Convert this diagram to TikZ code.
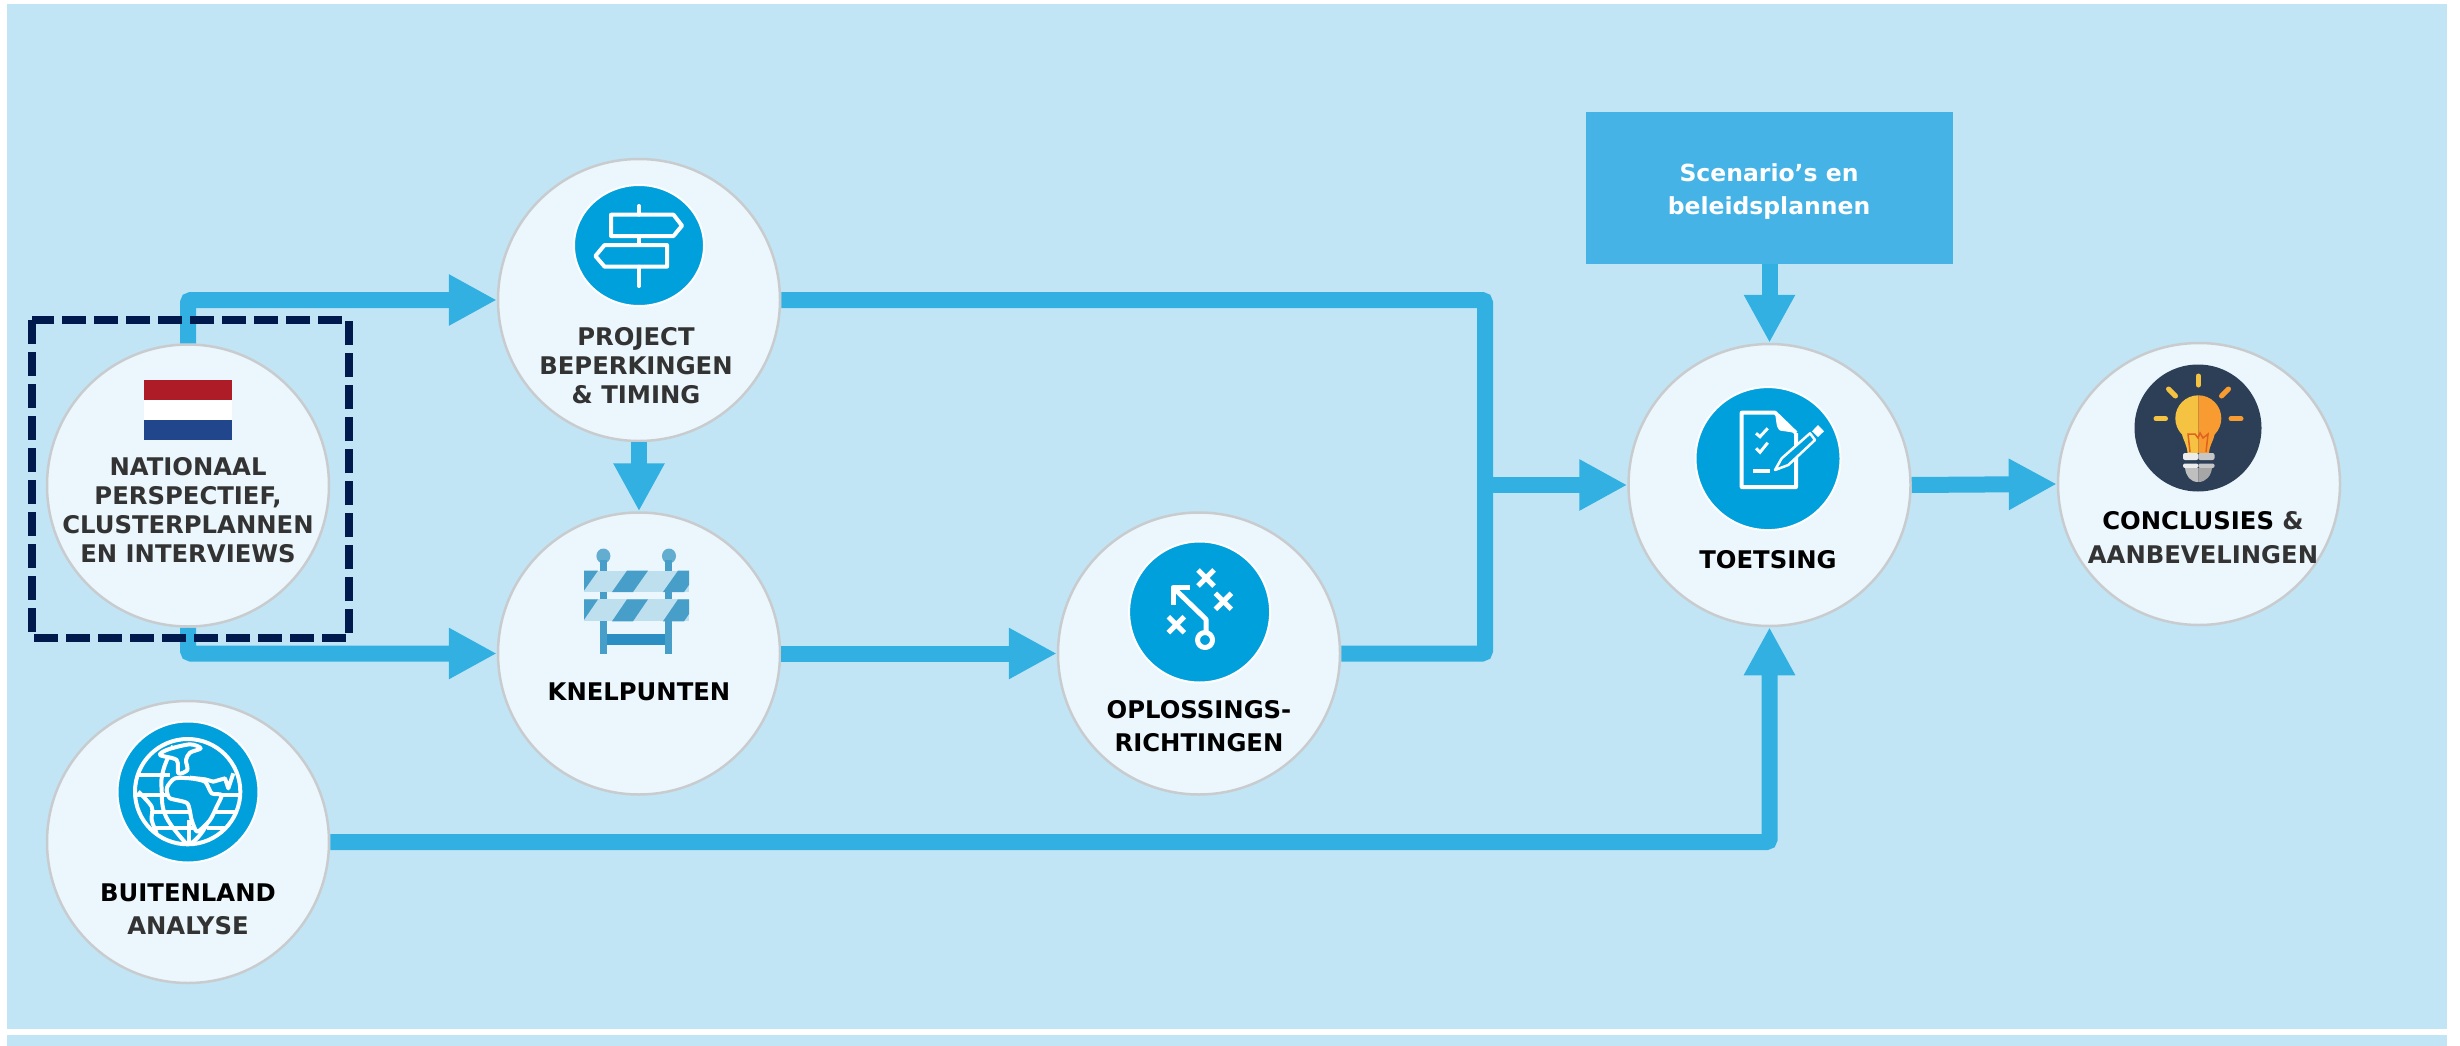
\documentclass[tikz,border=0pt]{standalone}
\usepackage{fontspec}
\setsansfont{DejaVu Sans}
\usetikzlibrary{arrows.meta,shapes.geometric}

\definecolor{panelblue}{HTML}{C2E5F5}
\definecolor{stationfill}{HTML}{EBF7FC}
\definecolor{stationline}{HTML}{C9CCCE}
\definecolor{flowblue}{HTML}{33B0E2}
\definecolor{boxblue}{HTML}{46B3E6}
\definecolor{iconblue}{HTML}{00A0DC}
\definecolor{navy}{HTML}{001A4D}
\definecolor{labelgray}{HTML}{333333}
\definecolor{flagred}{HTML}{AE1C28}
\definecolor{flagblue}{HTML}{21468B}
\definecolor{barrierdark}{HTML}{479FC9}
\definecolor{barrierlight}{HTML}{BDDFEE}
\definecolor{barrierbar}{HTML}{2B8FC4}
\definecolor{bulbnight}{HTML}{2C3F57}
\definecolor{bulbyellow}{HTML}{F5C242}
\definecolor{bulborange}{HTML}{F89C32}
\definecolor{wire}{HTML}{E0621F}

\tikzset{
  station/.style={ellipse,minimum width=282pt,minimum height=282pt,inner sep=0pt,fill=stationfill,draw=stationline,line width=2.5pt},
  badge/.style={ellipse,inner sep=0pt,fill=iconblue,draw=white,line width=2pt},
  flow/.style={line width=16pt,draw=flowblue,rounded corners=3pt},
  flowarrow/.style={flow,-{Triangle[length=48pt,width=48pt]}},
  lbl/.style={font=\sffamily\bfseries\fontsize{24.3}{29}\selectfont,align=center,inner sep=0pt,text=labelgray},
  iconline/.style={draw=white,line width=4pt,line join=round},
}

\begin{document}
\begin{tikzpicture}[x=1pt,y=-1pt]
\useasboundingbox (0,0) rectangle (2460,1046);
\fill[white] (0,0) rectangle (2460,1046);
\fill[panelblue] (7,4) rectangle (2447,1029);
\fill[panelblue] (7,1035) rectangle (2447,1046);

\node[station] (NAT) at (188,485.5) {};
\node[station] (PRJ) at (639,300) {};
\node[station] (KNP) at (639,653.5) {};
\node[station] (OPL) at (1199,653.5) {};
\node[station] (TST) at (1769.5,485) {};
\node[station] (CON) at (2199,484) {};
\node[station] (BUI) at (188,842) {};
\node[rectangle,fill=boxblue,minimum width=367pt,minimum height=152pt,inner sep=0pt] (SCN) at (1769.5,188) {};

\coordinate (M) at (1485,485);
\draw[flowarrow] (NAT.north) |- (PRJ.west);
\draw[flowarrow] (NAT.south) |- (KNP.west);
\draw[flowarrow] (PRJ.south) -- (KNP.north);
\draw[flowarrow] (KNP.east) -- (OPL.west);
\draw[flow] (PRJ.east) -| (M);
\draw[flow] (OPL.east) -| (M);
\draw[flowarrow] (M) -- (TST.west);
\draw[flowarrow] (SCN.south) -- (TST.north);
\draw[flowarrow] (BUI.east) -| (TST.south);
\draw[flowarrow] (TST.east) -- (CON.west);

\draw[navy,line width=7.5pt,dash pattern=on 24pt off 8pt] (32,320) rectangle (349,638);

% flag
\fill[white] (144,400) rectangle (232,420);
\fill[flagred] (144,380) rectangle (232,400);
\fill[flagblue] (144,420) rectangle (232,440);

% signpost
\node[badge,minimum width=130pt,minimum height=121pt] (PRJicon) at (639,245.5) {};
\draw[iconline] (611,214.7) -- (673.5,214.7) -- (682,225.7) -- (673.5,236) -- (611,236) -- cycle;
\draw[iconline] (667,245) -- (604.6,245) -- (595.4,256) -- (604.6,266.7) -- (667,266.7) -- cycle;
\draw[iconline,line cap=round] (639,206) -- (639,214.7) (639,236) -- (639,245) (639,266.7) -- (639,286);

% barrier
\fill[barrierdark!85!white] (603.4,556) ellipse (7 and 7.5);
\fill[barrierdark!85!white] (669,556) ellipse (7 and 7.5);
\fill[barrierdark] (600,560) rectangle (607.4,653.7);
\fill[barrierdark] (665.4,560) rectangle (672.3,653.7);
\fill[barrierbar] (607.4,634.3) rectangle (665.4,645.3);
\foreach \ytop/\ybot in {570.7/592,599.3/621.3}{
  \begin{scope}
    \clip (584,\ytop) rectangle (689,\ybot);
    \fill[barrierlight] (584,\ytop) rectangle (689,\ybot);
    \foreach \xs in {577,627,678}
      \fill[barrierdark] (\xs,\ytop) -- (\xs+21,\ytop) -- (\xs+6,\ybot) -- (\xs-15,\ybot) -- cycle;
  \end{scope}
}

% playbook
\node[badge,minimum width=141pt,minimum height=141pt] (OPLicon) at (1199.6,612) {};
\draw[iconline,line width=5pt] (1190,587.3) -- (1173,587.3) -- (1173,605);
\draw[iconline,line width=5pt] (1173,587.3) -- (1206,619.3) -- (1206,633);
\draw[iconline,line width=5pt] (1205,640) circle (7.5);
\foreach \cx/\cy in {1206/578,1223.4/601.3,1176.3/624.7}
  \draw[iconline,line width=5pt] (\cx-8,\cy-8) -- (\cx+8,\cy+8) (\cx-8,\cy+8) -- (\cx+8,\cy-8);

% checklist
\node[badge,minimum width=145pt,minimum height=143pt] (TSTicon) at (1768,458.6) {};
\draw[iconline] (1796,433) -- (1796,487) -- (1741.7,487) -- (1741.7,412.7) -- (1775,412.7) -- (1796,433);
\fill[white] (1775,412.7) .. controls (1777,425) and (1776,431) .. (1783,431) -- (1796,433) -- cycle;
\draw[white,line width=3pt] (1756,433.3) -- (1760,436.7) -- (1767.7,428.3);
\draw[white,line width=3pt] (1756,448.3) -- (1760,452.3) -- (1767.7,442.7);
\draw[iconline] (1753.3,470.7) -- (1770,470.7);
\draw[draw=white,fill=iconblue,line width=2.5pt,line join=round] (1775,470) -- (1781.7,458.3) -- (1810,433.3) -- (1815,440) -- (1788.3,465) -- cycle;
\fill[white] (1818,425) -- (1824,431.3) -- (1818,437) -- (1812,431.3) -- cycle;

% globe
\node[badge,minimum width=141pt,minimum height=141pt] (BUIicon) at (188,792) {};
\begin{scope}[shift={(110,710)},x=0.3333pt,y=-0.3333pt]
  \draw[iconline] plot[smooth, tension=.7] coordinates {(190,108) (160,180) (155,240) (168,320) (230,402)};
  \draw[iconline] (237,330) -- (237,405);
  \draw[iconline] (298,325) .. controls (285,360) and (265,385) .. (240,403);
  \draw[iconline] (88,195) -- (180,195) (80,255) -- (170,255) (125,305) -- (240,305) (135,355) -- (255,355);
  \draw[iconline] (335,255) -- (388,255) (318,305) -- (378,305) (290,355) -- (345,355);
  \draw[iconline,fill=iconblue] plot[smooth cycle, tension=.4] coordinates {(175,225) (195,205) (240,205) (285,215) (305,250) (335,255) (320,290) (300,330) (262,365) (245,330) (232,280) (180,265) (170,240)};
  \draw[iconline,fill=iconblue] plot[smooth cycle, tension=.5] coordinates {(150,135) (175,118) (240,103) (272,115) (240,128) (228,150) (232,180) (205,190) (200,150)};
  \draw[iconline] plot[smooth, tension=.5] coordinates {(85,245) (125,290) (125,330) (140,370)};
  \draw[iconline] (240,203) -- (285,208) -- (310,215) -- (345,205) -- (355,235) -- (370,190);
  \draw[iconline] (233,245) circle (158);
\end{scope}

% bulb
\node[badge,fill=bulbnight,draw=none,minimum width=127pt,minimum height=127pt] (CONicon) at (2198,428) {};
\fill[bulbyellow] (2198.3,395.3) arc (270:135:23) .. controls (2184,442) and (2187,445) .. (2187.5,453) -- (2198.3,453) -- cycle;
\fill[bulborange] (2198.3,395.3) arc (270:405:23) .. controls (2213,442) and (2209.5,445) .. (2209,453) -- (2198.3,453) -- cycle;
\draw[wire,line width=1.5pt] (2190,452) -- (2188,434) -- (2195,434) -- (2198,438) -- (2200,433) -- (2203,438) -- (2208,434) -- (2206,452);
\fill[gray!15,rounded corners=2pt] (2183,453) rectangle (2198.3,460);
\fill[gray!45,rounded corners=2pt] (2198.3,453) rectangle (2214.5,460);
\fill[gray!15,rounded corners=2pt] (2183,463.5) rectangle (2198.3,468);
\fill[gray!45,rounded corners=2pt] (2198.3,463.5) rectangle (2214.5,468);
\fill[gray!50] (2185,468) -- (2198.3,468) -- (2198.3,482) .. controls (2190,482) and (2186,476) .. (2185,468);
\fill[gray!70] (2212,468) -- (2198.3,468) -- (2198.3,482) .. controls (2206,482) and (2211,476) .. (2212,468);
\draw[bulbyellow,line width=5pt,line cap=round] (2198.3,376) -- (2198.3,385);
\draw[bulbyellow,line width=5pt,line cap=round] (2156,418.7) -- (2165.5,418.7);
\draw[bulbyellow,line width=5pt,line cap=round] (2168.5,389) -- (2175.5,396);
\draw[bulborange,line width=5pt,line cap=round] (2231,418.7) -- (2241,418.7);
\draw[bulborange,line width=5pt,line cap=round] (2228.5,389) -- (2221.5,396);

\node[lbl] (NATtext) at (188,510) {NATIONAAL\\PERSPECTIEF,\\CLUSTERPLANNEN\\EN INTERVIEWS};
\node[lbl] (PRJtext) at (636,366) {PROJECT\\BEPERKINGEN\\\& TIMING};
\node[lbl,text=black] (KNPtext) at (639,692) {KNELPUNTEN};
\node[lbl,text=black,font=\sffamily\bfseries\fontsize{24.3}{32.7}\selectfont] (OPLtext) at (1199,726) {OPLOSSINGS-\\RICHTINGEN};
\node[lbl,text=black] (TSTtext) at (1768,560) {TOETSING};
\node[lbl,font=\sffamily\bfseries\fontsize{24.3}{34}\selectfont] (CONtext) at (2203,538) {\textcolor{black}{CONCLUSIES} \&\\AANBEVELINGEN};
\node[lbl,font=\sffamily\bfseries\fontsize{24.3}{33.3}\selectfont] (BUItext) at (188,909) {\textcolor{black}{BUITENLAND}\\ANALYSE};
\node[lbl,text=white,font=\sffamily\bfseries\fontsize{23.5}{33}\selectfont] (SCNtext) at (1769,191.5) {Scenario’s en\\beleidsplannen};
\end{tikzpicture}
\end{document}
